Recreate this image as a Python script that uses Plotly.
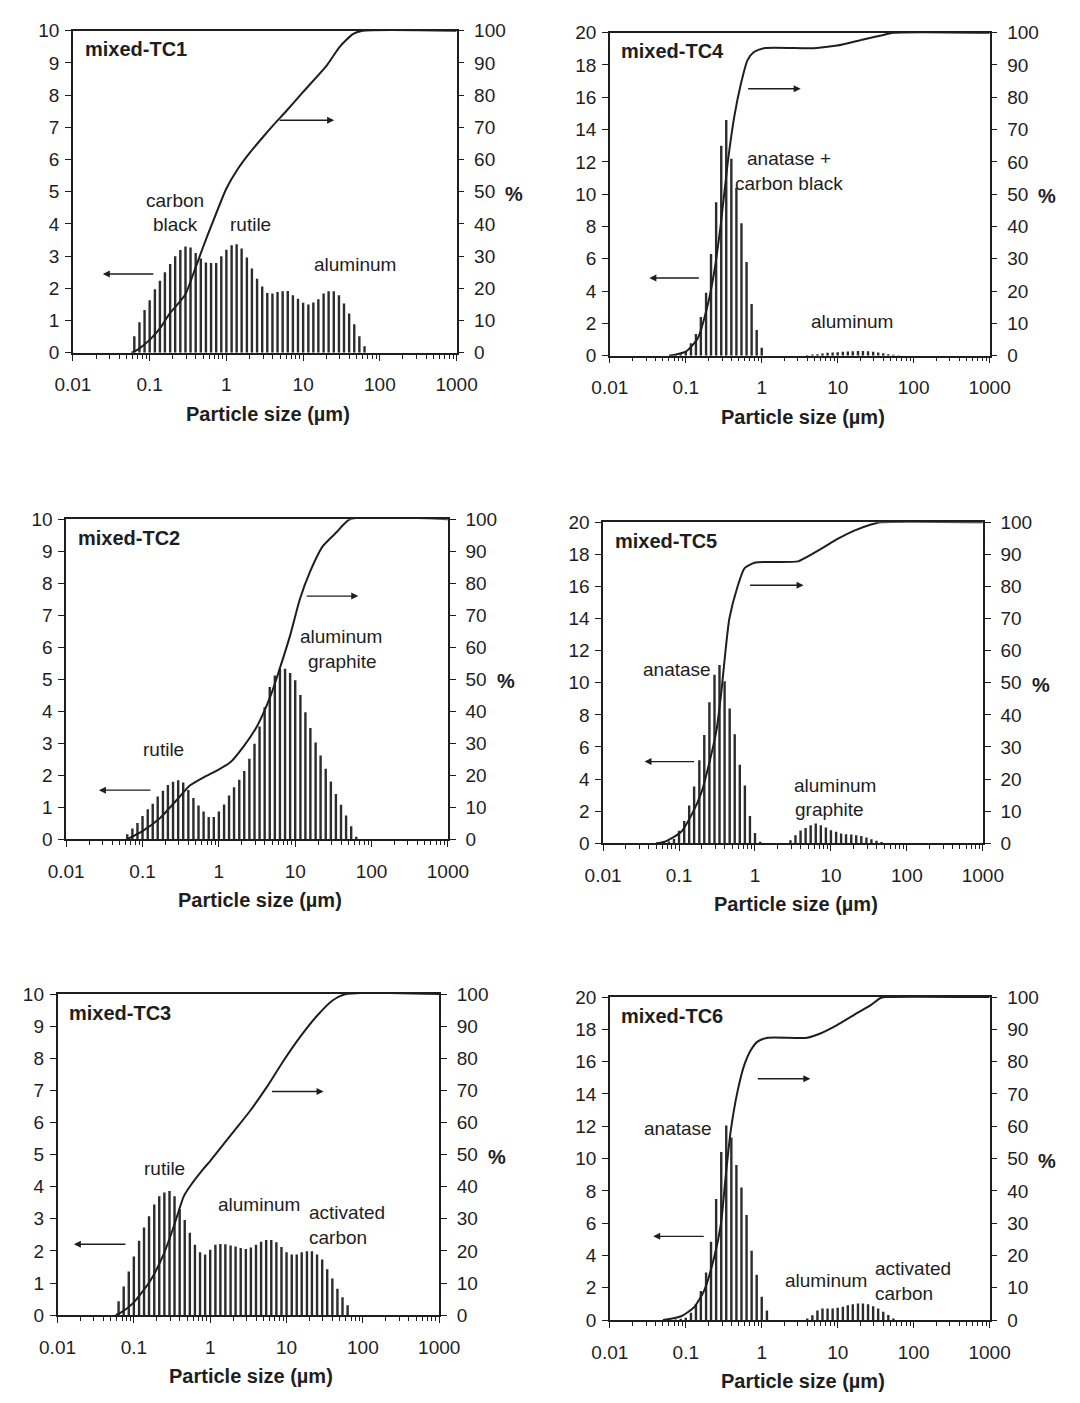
import plotly.graph_objects as go

# ---------------- data ----------------
SIZES_UM = [0.0398, 0.0464, 0.0541, 0.0631, 0.0736, 0.0858, 0.100, 0.117, 0.136, 0.158,
            0.185, 0.215, 0.251, 0.293, 0.341, 0.398, 0.464, 0.541, 0.631, 0.736,
            0.858, 1.00, 1.17, 1.36, 1.58, 1.85, 2.15, 2.51, 2.93, 3.41,
            3.98, 4.64, 5.41, 6.31, 7.36, 8.58, 10.0, 11.7, 13.6, 15.8,
            18.5, 21.5, 25.1, 29.3, 34.1, 39.8, 46.4, 54.1, 63.1, 73.6]

FREQ_TC1 = [0, 0, 0, 0.51, 0.95, 1.33, 1.63, 1.97, 2.24, 2.5,
            2.76, 3.0, 3.19, 3.3, 3.27, 3.1, 2.93, 2.8, 2.79, 2.79,
            3.0, 3.2, 3.34, 3.37, 3.24, 2.96, 2.62, 2.3, 2.06, 1.86,
            1.84, 1.89, 1.91, 1.92, 1.79, 1.68, 1.55, 1.5, 1.56, 1.66,
            1.84, 1.91, 1.91, 1.79, 1.53, 1.22, 0.89, 0.51, 0.2, 0]
FREQ_TC2 = [0, 0, 0, 0.16, 0.34, 0.51, 0.73, 0.94, 1.11, 1.34,
            1.52, 1.7, 1.8, 1.85, 1.78, 1.54, 1.29, 1.06, 0.87, 0.7,
            0.7, 0.87, 1.09, 1.37, 1.63, 1.86, 2.14, 2.52, 2.99, 3.53,
            4.13, 4.76, 5.12, 5.33, 5.33, 5.2, 4.97, 4.51, 3.97, 3.48,
            3.03, 2.62, 2.21, 1.81, 1.42, 1.08, 0.75, 0.41, 0.08, 0]
FREQ_TC3 = [0, 0, 0, 0.43, 0.89, 1.36, 1.83, 2.32, 2.73, 3.08,
            3.45, 3.7, 3.82, 3.87, 3.7, 3.31, 2.96, 2.57, 2.19, 1.96,
            1.89, 2.04, 2.19, 2.22, 2.21, 2.17, 2.14, 2.09, 2.06, 2.11,
            2.19, 2.29, 2.34, 2.34, 2.27, 2.12, 1.96, 1.89, 1.89, 1.96,
            1.99, 1.99, 1.89, 1.73, 1.43, 1.14, 0.82, 0.56, 0.31, 0]
FREQ_TC4 = [0, 0, 0, 0.03, 0.05, 0.1, 0.25, 0.77, 1.35, 2.4,
            3.9, 6.3, 9.5, 13.0, 14.6, 12.2, 10.4, 8.2, 5.8, 3.2,
            1.6, 0.5, 0, 0, 0, 0, 0, 0, 0, 0,
            0.05, 0.08, 0.1, 0.14, 0.18, 0.2, 0.22, 0.25, 0.27, 0.28,
            0.3, 0.3, 0.28, 0.25, 0.2, 0.15, 0.1, 0.06, 0.03, 0]
FREQ_TC5 = [0, 0, 0, 0, 0.12, 0.27, 0.78, 1.39, 2.35, 3.54,
            5.17, 6.75, 8.79, 10.5, 11.1, 10.1, 8.4, 6.8, 4.9, 3.6,
            1.7, 0.65, 0.1, 0, 0, 0, 0, 0, 0.2, 0.5,
            0.8, 0.96, 1.13, 1.23, 1.13, 0.98, 0.82, 0.72, 0.62, 0.57,
            0.55, 0.51, 0.45, 0.37, 0.25, 0.16, 0.08, 0, 0, 0]
FREQ_TC6 = [0, 0, 0, 0.02, 0.04, 0.08, 0.15, 0.45, 1.0, 1.8,
            2.95, 4.85, 7.5, 10.4, 12.05, 11.3, 9.6, 8.2, 6.5, 4.3,
            2.8, 1.45, 0.6, 0, 0, 0, 0, 0, 0, 0,
            0.1, 0.3, 0.6, 0.72, 0.72, 0.72, 0.76, 0.82, 0.92, 0.98,
            1.03, 1.03, 0.98, 0.86, 0.72, 0.51, 0.31, 0.1, 0, 0]

CUM_X_TC1 = [0.058, 0.07, 0.1, 0.14, 0.18, 0.29, 0.39, 0.5, 0.65, 1.0, 1.4, 2.0, 3.0, 4.2, 6, 10, 20, 30, 45, 60, 1000]
CUM_Y_TC1 = [0, 1, 4, 8, 12, 18, 26, 33, 40, 51, 57, 62, 67, 71, 75, 81, 89, 95, 99, 100, 100]
CUM_X_TC2 = [0.062, 0.1, 0.17, 0.28, 0.42, 0.63, 0.94, 1.4, 2.1, 3.15, 4.7, 6.3, 8.6, 11.5, 15.5, 23, 35, 52, 1000]
CUM_Y_TC2 = [0, 2.6, 6.7, 12.3, 16.9, 19.4, 21.5, 24, 29, 35.3, 44.5, 53.5, 63.8, 75, 83.4, 91.6, 96, 100, 100]
CUM_X_TC3 = [0.058, 0.07, 0.1, 0.165, 0.246, 0.33, 0.45, 0.55, 0.81, 1.0, 2.0, 3.3, 5.5, 9.0, 14.9, 24.6, 40, 60, 1000]
CUM_Y_TC3 = [0, 1, 4, 10.8, 19, 27.3, 37, 40.3, 45.5, 48, 57, 63.5, 71, 79, 86.5, 93, 98, 100, 100]
CUM_X_TC4 = [0.06, 0.1, 0.144, 0.194, 0.237, 0.29, 0.356, 0.435, 0.53, 0.65, 0.79, 1.07, 4.9, 9.8, 21.7, 40, 54, 1000]
CUM_Y_TC4 = [0, 1.3, 5.4, 15.6, 26, 41, 59.6, 74, 84, 91.5, 94, 95.2, 95.2, 96, 97.9, 99.3, 100, 100]
CUM_X_TC5 = [0.05, 0.065, 0.107, 0.145, 0.197, 0.25, 0.31, 0.36, 0.40, 0.46, 0.59, 0.73, 0.99, 3.7, 4.5, 7.5, 12.4, 20.3, 33.8, 45, 1000]
CUM_Y_TC5 = [0, 0.5, 3.6, 8.7, 15.8, 25, 35, 47, 57.7, 70, 80, 85.7, 87.4, 87.8, 88.8, 91.8, 94.9, 97.4, 99.3, 100, 100]
CUM_X_TC6 = [0.05, 0.087, 0.13, 0.175, 0.237, 0.29, 0.337, 0.39, 0.48, 0.59, 0.72, 0.88, 1.2, 3.97, 5.9, 9.8, 16.3, 26.9, 36.5, 42, 1000]
CUM_Y_TC6 = [0, 1.2, 4.1, 9.2, 19.5, 29.7, 45, 58.5, 70.8, 79, 83.6, 86.2, 87.4, 87.4, 88.7, 91.3, 94.4, 97.4, 99.7, 100, 100]

X_TICKS = [0.01, 0.1, 1, 10, 100, 1000]
X_TICK_TEXT = ["0.01", "0.1", "1", "10", "100", "1000"]
X_TITLE = "Particle size (µm)"

# ---------------- layout helpers ----------------
W, H = 1080, 1403
FONT = "Liberation Sans, Arial, sans-serif"
INK = "#1e1e1e"
BAR = "#2c2c2c"


def px(x):
    return x / W


def py(y):
    return 1 - y / H


MINOR = [m * 10 ** e for e in range(-2, 3) for m in range(2, 10)]

# name, freq, cum x, cum y, left max, left step, box(l, r, t, b) in page pixels
PANELS = [
    ("mixed-TC1", FREQ_TC1, CUM_X_TC1, CUM_Y_TC1, 10, 1, (57, 455, 21, 348)),
    ("mixed-TC4", FREQ_TC4, CUM_X_TC4, CUM_Y_TC4, 20, 2, (614, 1008, 23, 351)),
    ("mixed-TC2", FREQ_TC2, CUM_X_TC2, CUM_Y_TC2, 10, 1, (50, 446, 517, 842)),
    ("mixed-TC5", FREQ_TC5, CUM_X_TC5, CUM_Y_TC5, 20, 2, (607, 1001, 520, 846)),
    ("mixed-TC3", FREQ_TC3, CUM_X_TC3, CUM_Y_TC3, 10, 1, (41, 437, 999, 1325)),
    ("mixed-TC6", FREQ_TC6, CUM_X_TC6, CUM_Y_TC6, 20, 2, (614, 1008, 1002, 1330)),
]

fig = go.Figure()
layout = dict(
    width=W, height=H, margin=dict(l=0, r=0, t=0, b=0),
    paper_bgcolor="white", plot_bgcolor="rgba(0,0,0,0)",
    showlegend=False, font=dict(family=FONT, size=19, color=INK),
)
annotations = []

for i, (name, freq, cx, cy, ymax, ystep, box) in enumerate(PANELS, start=1):
    l, r, t, b = box
    xd = [px(l), px(r)]
    yd = [py(b), py(t)]
    ax_common = dict(linecolor=INK, linewidth=1.5, tickcolor=INK, tickwidth=1.3,
                     showgrid=False, zeroline=False, tickfont=dict(family=FONT, size=19, color=INK))
    layout[f"xaxis{i}"] = dict(
        type="log", range=[-2, 3], domain=xd, anchor=f"y{i}",
        tickvals=X_TICKS, ticktext=X_TICK_TEXT, ticks="outside", ticklen=6,
        showline=True, mirror=True, ticklabelstandoff=8,
        minor=dict(tickvals=MINOR, ticks="outside", ticklen=4, tickcolor=INK, tickwidth=1),
        **ax_common)
    layout[f"yaxis{i}"] = dict(
        range=[0, ymax], dtick=ystep, domain=yd, anchor=f"x{i}",
        ticks="outside", ticklen=6, showline=True, ticklabelstandoff=2, **ax_common)
    layout[f"yaxis{i + 6}"] = dict(
        range=[0, 100], dtick=10, overlaying=f"y{i}", side="right", anchor=f"x{i}",
        ticks="outside", ticklen=6, showline=True, ticklabelstandoff=6, **ax_common)
    layout[f"yaxis{i + 12}"] = dict(
        range=[0, 100], dtick=10, overlaying=f"y{i}", side="right", anchor=f"x{i}",
        ticks="inside", ticklen=6, showline=False, showticklabels=False,
        showgrid=False, zeroline=False, tickcolor=INK, tickwidth=1.3)

    bx, by = [], []
    for s, v in zip(SIZES_UM, freq):
        if v > 0:
            bx += [s, s, None]
            by += [0, v, None]
    fig.add_trace(go.Scatter(x=bx, y=by, mode="lines", line=dict(color=BAR, width=2.4),
                             xaxis=f"x{i}", yaxis=f"y{i}", hoverinfo="skip"))
    fig.add_trace(go.Scatter(x=cx, y=cy, mode="lines",
                             line=dict(color=INK, width=2, shape="spline", smoothing=0.6),
                             xaxis=f"x{i}", yaxis=f"y{i + 6}", hoverinfo="skip"))

    annotations.append(dict(x=px(l + 10), y=py(t + 19), xref="paper", yref="paper",
                            text=f"<b>{name}</b>", showarrow=False, xanchor="left",
                            yanchor="middle", font=dict(size=20)))
    annotations.append(dict(x=px((l + r) / 2 + 3), y=py(b + 62), xref="paper", yref="paper",
                            text=f"<b>{X_TITLE}</b>", showarrow=False, xanchor="center",
                            yanchor="middle", font=dict(size=20)))
    annotations.append(dict(x=px(r + 60), y=py((t + b) / 2 + 2), xref="paper", yref="paper",
                            text="<b>%</b>", showarrow=False, xanchor="center",
                            yanchor="middle", font=dict(size=20)))

# labels inside panels (page pixel centres)
LABELS = [
    ("carbon", 163, 193), ("black", 163, 218), ("rutile", 241, 218), ("aluminum", 350, 258),
    ("anatase +", 800, 151), ("carbon black", 800, 176), ("aluminum", 865, 316),
    ("aluminum", 335, 636), ("graphite", 337, 661), ("rutile", 151, 751),
    ("anatase", 684, 670), ("aluminum", 848, 787), ("graphite", 842, 812),
    ("rutile", 152, 1176), ("aluminum", 250, 1213), ("activated", 341, 1221), ("carbon", 332, 1246),
    ("anatase", 685, 1135), ("aluminum", 838, 1290), ("activated", 929, 1278), ("carbon", 919, 1303),
]
for txt, cxp, cyp in LABELS:
    annotations.append(dict(x=px(cxp), y=py(cyp), xref="paper", yref="paper", text=txt,
                            showarrow=False, xanchor="center", yanchor="middle",
                            font=dict(size=19)))

# arrows: (head x, tail x, y) in page pixels
ARROWS = [(88, 140, 268), (328, 272, 112),
          (655, 706, 272), (812, 758, 80),
          (84, 137, 792), (353, 300, 595),
          (650, 701, 763), (815, 760, 584),
          (58, 111, 1253), (317, 264, 1098),
          (659, 711, 1245), (822, 768, 1085)]
for hx, tx, ay in ARROWS:
    annotations.append(dict(x=px(hx), y=py(ay), xref="paper", yref="paper", text="",
                            showarrow=True, ax=tx - hx, ay=0, axref="pixel", ayref="pixel",
                            arrowhead=2, arrowsize=1, arrowwidth=1.4, arrowcolor=INK))

layout["annotations"] = annotations
fig.update_layout(**layout)
fig.write_html("out.html")
